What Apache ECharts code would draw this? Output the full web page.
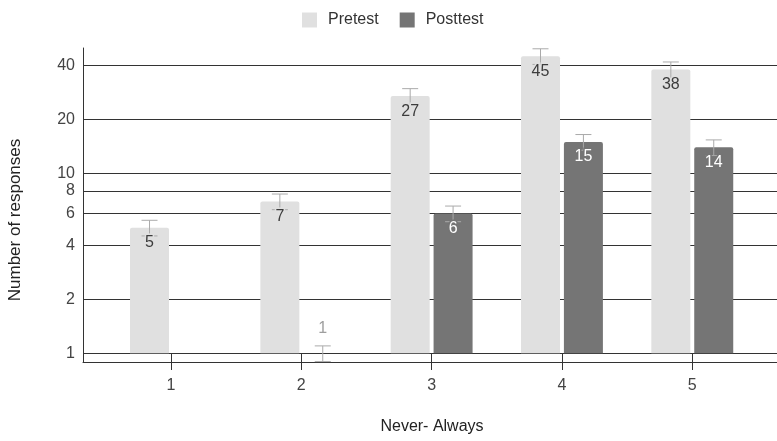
<!DOCTYPE html>
<html>
<head>
<meta charset="utf-8">
<script src="https://cdn.jsdelivr.net/npm/echarts@6/dist/echarts.min.js"></script>
<style>
  html, body { margin: 0; padding: 0; background: #fff; }
  #chart { width: 777px; height: 441px; }
</style>
</head>
<body>
<div id="chart"></div>
<script>
// Responses per scale point (1 = Never ... 5 = Always)
const categories = ['1', '2', '3', '4', '5'];
const pretest = [5, 7, 27, 45, 38];
const posttest = [null, 1, 6, 15, 14];

// Error bar ranges
const pretestLow = [4.5, 6.3, 24.3, 40.5, 34.2];
const pretestHigh = [5.5, 7.7, 29.7, 49.5, 41.8];
const posttestLow = [null, 0.9, 5.4, 13.5, 12.6];
const posttestHigh = [null, 1.1, 6.6, 16.5, 15.4];

// Log-axis tick labels
const yTicks = [1, 2, 4, 6, 8, 10, 20, 40];

const FONT = '"Liberation Sans", Arial, sans-serif';
const BAR_W = 39;
const BAR_GAP = 0.1;
const PRE_COLOR = '#e0e0e0';
const POST_COLOR = '#757575';
const xPos = categories.map(Number);

const preData = xPos.map((x, i) => [x, pretest[i]]);
const postData = xPos.map((x, i) => [x, posttest[i]]).filter(d => d[1] != null);

const errData = [];
xPos.forEach((x, i) => {
  errData.push([x, pretest[i], pretestLow[i], pretestHigh[i], 0]);
  if (posttest[i] != null) errData.push([x, posttest[i], posttestLow[i], posttestHigh[i], 1]);
});

// Error bars plus the value labels, drawn on top of the bars
function renderErr(params, api) {
  const x = api.value(0), v = api.value(1), lo = api.value(2), hi = api.value(3), s = api.value(4);
  const shift = (s === 0 ? -1 : 1) * (BAR_W + BAR_W * BAR_GAP) / 2;
  const top = api.coord([x, v]);
  const base = api.coord([x, 1]);
  const pHi = api.coord([x, hi]);
  const pLo = api.coord([x, lo]);
  const cx = top[0] + shift;
  const cap = 8;
  const ls = { stroke: '#aaaaaa', lineWidth: 1 };
  const inside = (base[1] - top[1]) > 30;
  const barColor = s === 0 ? PRE_COLOR : POST_COLOR;
  return {
    type: 'group',
    children: [
      { type: 'line', shape: { x1: cx, y1: pHi[1], x2: cx, y2: pLo[1] }, style: ls },
      { type: 'line', shape: { x1: cx - cap, y1: pHi[1], x2: cx + cap, y2: pHi[1] }, style: ls },
      { type: 'line', shape: { x1: cx - cap, y1: pLo[1], x2: cx + cap, y2: pLo[1] }, style: ls },
      {
        type: 'text',
        style: {
          text: String(v),
          x: cx,
          y: inside ? top[1] + 15 : top[1] - 25,
          align: 'center',
          verticalAlign: 'middle',
          fontSize: 16,
          fontFamily: FONT,
          fill: inside ? (s === 0 ? '#3c3c3c' : '#ffffff') : '#9e9e9e',
          stroke: inside ? barColor : '#ffffff',
          lineWidth: 3
        }
      }
    ]
  };
}

const chart = echarts.init(document.getElementById('chart'), null, { renderer: 'canvas' });
chart.setOption({
  animation: false,
  backgroundColor: '#ffffff',
  textStyle: { fontFamily: FONT },
  legend: {
    data: ['Pretest', 'Posttest'],
    left: 297,
    top: 7,
    itemWidth: 15,
    itemHeight: 15,
    itemGap: 21,
    icon: 'rect',
    textStyle: { fontSize: 16, color: '#333', fontFamily: FONT, padding: [0, 0, 0, 6] }
  },
  graphic: [
    {
      type: 'text',
      x: 15,
      y: 220,
      rotation: Math.PI / 2,
      style: {
        text: 'Number of responses',
        align: 'center',
        verticalAlign: 'middle',
        fontSize: 17,
        fontFamily: FONT,
        fill: '#222'
      }
    }
  ],
  grid: { left: 83, right: 0, top: 48, bottom: 79, containLabel: false },
  xAxis: [
    {
      type: 'value',
      min: 0.325,
      max: 5.65,
      name: 'Never- Always',
      nameLocation: 'middle',
      nameGap: 57,
      nameTextStyle: { fontSize: 16, color: '#222', fontFamily: FONT, padding: [0, 0, 0, 4] },
      axisLine: { show: true, lineStyle: { color: '#333', width: 1 } },
      axisTick: { show: true, customValues: xPos, length: 8, lineStyle: { color: '#333' } },
      axisLabel: {
        customValues: xPos,
        formatter: v => categories[Math.round(v) - 1],
        fontSize: 16, color: '#444', margin: 16, fontFamily: FONT
      },
      splitLine: { show: false }
    },
    {
      type: 'value',
      position: 'bottom',
      min: 0.325,
      max: 5.65,
      axisLine: { show: false },
      axisTick: { show: true, inside: true, customValues: xPos, length: 9, lineStyle: { color: '#333' } },
      axisLabel: { show: false },
      splitLine: { show: false }
    }
  ],
  yAxis: {
    type: 'log',
    logBase: 10,
    min: 0.895,
    max: 50,
    axisLine: { show: true, lineStyle: { color: '#333', width: 1 } },
    axisTick: { show: false, customValues: yTicks },
    axisLabel: { customValues: yTicks, fontSize: 16, color: '#444', margin: 8, fontFamily: FONT },
    splitLine: { show: true, lineStyle: { color: '#333', width: 1 } }
  },
  series: [
    {
      name: 'Pretest',
      type: 'bar',
      data: preData,
      barWidth: BAR_W,
      barGap: (BAR_GAP * 100) + '%',
      itemStyle: { color: PRE_COLOR, borderRadius: [2, 2, 0, 0] },
      z: 2
    },
    {
      name: 'Posttest',
      type: 'bar',
      data: postData,
      barWidth: BAR_W,
      barGap: (BAR_GAP * 100) + '%',
      itemStyle: { color: POST_COLOR, borderRadius: [2, 2, 0, 0] },
      z: 2
    },
    {
      name: 'errors',
      type: 'custom',
      data: errData,
      encode: { x: 0, y: [1, 2, 3] },
      renderItem: renderErr,
      clip: false,
      z: 3,
      silent: true
    }
  ]
});
</script>
</body>
</html>
